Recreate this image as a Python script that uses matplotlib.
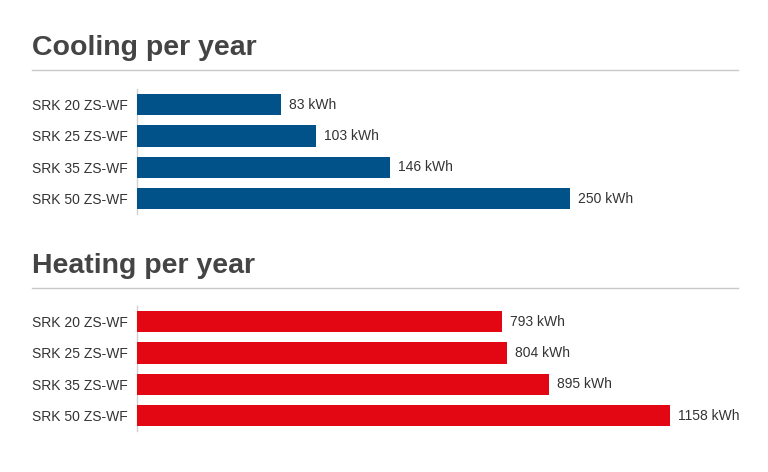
import matplotlib.pyplot as plt

models = ['SRK 20 ZS-WF', 'SRK 25 ZS-WF', 'SRK 35 ZS-WF', 'SRK 50 ZS-WF']
cooling_kwh = [83, 103, 146, 250]
heating_kwh = [793, 804, 895, 1158]

W, H = 768, 472
plt.rcParams['font.family'] = ['Liberation Sans', 'DejaVu Sans']

fig = plt.figure(figsize=(W / 100, H / 100), dpi=100)


def px_axes(left, top, width, height):
    return fig.add_axes([left / W, 1 - (top + height) / H, width / W, height / H])


def section(title, title_base, rule_y, ax_top, values, color, px_per_unit):
    fig.text(32.5 / W, 1 - title_base / H, title, fontsize=20.5, fontweight='bold',
             color='#444444', ha='left', va='baseline')
    fig.add_artist(plt.Line2D([32 / W, 738 / W], [1 - rule_y / H] * 2,
                              color='#c8c8c8', linewidth=1.0))

    ax = px_axes(137.3, ax_top, 600, 125.3)
    ypos = list(range(len(models)))
    ax.barh(ypos, values, height=0.68, color=color, zorder=3)
    ax.set_ylim(3.5, -0.5)
    ax.set_xlim(0, 600 / px_per_unit)
    ax.set_yticks(ypos)
    # labels left-aligned at x = 32 px
    ax.set_yticklabels(models, fontsize=10, color='#333333', ha='left')
    ax.tick_params(axis='y', length=0, pad=(137.3 - 32) * 0.72)
    ax.set_xticks([])
    for s in ['top', 'right', 'bottom']:
        ax.spines[s].set_visible(False)
    ax.spines['left'].set_color('#d0d0d0')
    ax.spines['left'].set_linewidth(1.0)
    ax.spines['left'].set_zorder(1)
    for y, v in zip(ypos, values):
        ax.annotate(f'{v} kWh', (v, y), xytext=(5.8, 0), textcoords='offset points',
                    ha='left', va='center', fontsize=10, color='#333333')
    return ax


section('Cooling per year', 55, 70, 89, cooling_kwh, '#005288', 1.7314)
section('Heating per year', 273, 287.5, 306, heating_kwh, '#e30613', 0.46)

fig.savefig('out.png', dpi=100)
